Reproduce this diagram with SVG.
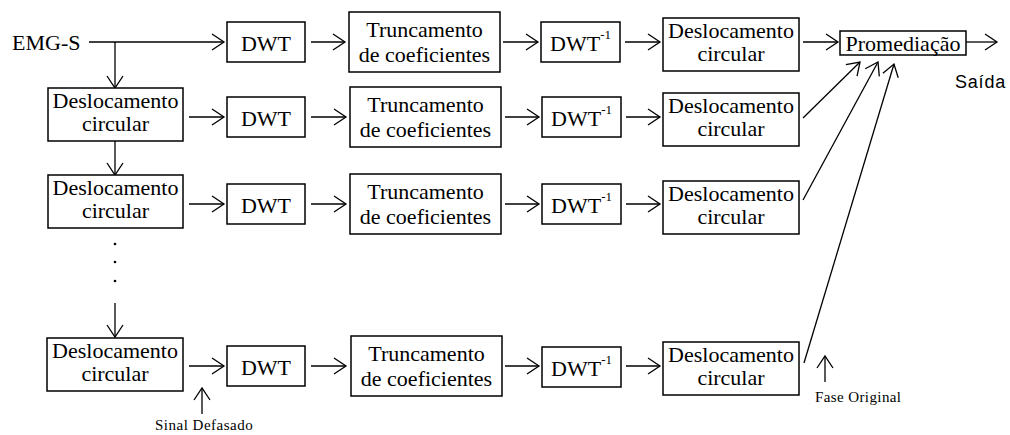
<svg xmlns="http://www.w3.org/2000/svg" width="1010" height="435" viewBox="0 0 1010 435" font-family="'Liberation Serif', 'Times New Roman', 'DejaVu Serif', serif">
<style>
  text { font-family: 'Liberation Serif', 'Times New Roman', 'DejaVu Serif', serif; fill: #000; }
  .box { fill: #fff; stroke: #000; stroke-width: 1.5; }
  .t { font-size: 22px; }
  .m { text-anchor: middle; }
  .sm { font-size: 15px; }
  text.sans { font-family: 'Liberation Sans', Arial, sans-serif; font-size: 18px; letter-spacing: 0.8px; }
  .c { fill: none; stroke: #000; stroke-width: 1.3; marker-end: url(#arr); }
</style>
<defs>
  <marker id="arr" markerUnits="userSpaceOnUse" markerWidth="20" markerHeight="20" refX="13" refY="9" orient="auto">
    <path d="M1,1 L13,9 L1,17" fill="none" stroke="#000" stroke-width="1.3"/>
  </marker>
</defs>
<rect width="1010" height="435" fill="#fff"/>

<g id="connectors">
  <line class="c" x1="89" y1="42" x2="224" y2="42"/>
  <line class="c" x1="311" y1="42" x2="345" y2="42"/>
  <line class="c" x1="503" y1="42" x2="538" y2="42"/>
  <line class="c" x1="625" y1="42" x2="660" y2="42"/>
  <line class="c" x1="803" y1="42" x2="838" y2="42"/>
  <line class="c" x1="966" y1="42" x2="997" y2="42"/>
  <line class="c" x1="115" y1="42" x2="115" y2="88"/>
  <line class="c" x1="115" y1="141" x2="115" y2="175"/>
  <line class="c" x1="115" y1="303" x2="115" y2="337"/>
  <line class="c" x1="189" y1="117" x2="224" y2="117"/>
  <line class="c" x1="311" y1="117" x2="346" y2="117"/>
  <line class="c" x1="505" y1="117" x2="539" y2="117"/>
  <line class="c" x1="626" y1="117" x2="660" y2="117"/>
  <line class="c" x1="189" y1="204" x2="224" y2="204"/>
  <line class="c" x1="311" y1="204" x2="346" y2="204"/>
  <line class="c" x1="505" y1="204" x2="539" y2="204"/>
  <line class="c" x1="626" y1="204" x2="660" y2="204"/>
  <line class="c" x1="189" y1="366" x2="224" y2="366"/>
  <line class="c" x1="311" y1="366" x2="346" y2="366"/>
  <line class="c" x1="505" y1="366" x2="539" y2="366"/>
  <line class="c" x1="626" y1="366" x2="660" y2="366"/>
  <line class="c" x1="803" y1="118" x2="860" y2="62"/>
  <line class="c" x1="803" y1="200" x2="878" y2="62"/>
  <line class="c" x1="804" y1="363" x2="894" y2="64"/>
  <line class="c" x1="202" y1="414" x2="202" y2="388"/>
  <line class="c" x1="825" y1="382" x2="825" y2="356"/>
  <circle cx="115" cy="244" r="1.3" fill="#000"/>
  <circle cx="115" cy="262" r="1.3" fill="#000"/>
  <circle cx="115" cy="281" r="1.3" fill="#000"/>
</g>

<g id="input"><text class="t" x="12" y="50">EMG-S</text></g>

<g id="dwt1"><rect class="box" x="227" y="22" width="78" height="40"/><text class="t m" x="266" y="51">DWT</text></g>
<g id="trunc1"><rect class="box" x="349" y="12" width="151" height="60"/><text class="t m" x="424.5" y="37">Truncamento</text><text class="t m" x="424.5" y="62">de coeficientes</text></g>
<g id="idwt1"><rect class="box" x="541" y="22" width="79" height="40"/><text class="t m" x="580.5" y="51">DWT<tspan font-size="13" dy="-12">-1</tspan></text></g>
<g id="desr1"><rect class="box" x="663" y="18" width="136" height="53"/><text class="t m" x="731" y="38">Deslocamento</text><text class="t m" x="731" y="61">circular</text></g>

<g id="desl2"><rect class="box" x="48" y="88" width="135" height="53"/><text class="t m" x="115.5" y="108">Deslocamento</text><text class="t m" x="115.5" y="131">circular</text></g>
<g id="dwt2"><rect class="box" x="227" y="97" width="78" height="40"/><text class="t m" x="266" y="126">DWT</text></g>
<g id="trunc2"><rect class="box" x="350" y="87" width="151" height="60"/><text class="t m" x="425.5" y="112">Truncamento</text><text class="t m" x="425.5" y="137">de coeficientes</text></g>
<g id="idwt2"><rect class="box" x="542" y="97" width="79" height="40"/><text class="t m" x="581.5" y="126">DWT<tspan font-size="13" dy="-12">-1</tspan></text></g>
<g id="desr2"><rect class="box" x="663" y="93" width="136" height="53"/><text class="t m" x="731" y="113">Deslocamento</text><text class="t m" x="731" y="136">circular</text></g>

<g id="desl3"><rect class="box" x="48" y="175" width="135" height="53"/><text class="t m" x="115.5" y="195">Deslocamento</text><text class="t m" x="115.5" y="218">circular</text></g>
<g id="dwt3"><rect class="box" x="227" y="184" width="78" height="40"/><text class="t m" x="266" y="213">DWT</text></g>
<g id="trunc3"><rect class="box" x="350" y="174" width="151" height="60"/><text class="t m" x="425.5" y="199">Truncamento</text><text class="t m" x="425.5" y="224">de coeficientes</text></g>
<g id="idwt3"><rect class="box" x="542" y="184" width="79" height="40"/><text class="t m" x="581.5" y="213">DWT<tspan font-size="13" dy="-12">-1</tspan></text></g>
<g id="desr3"><rect class="box" x="663" y="181" width="136" height="53"/><text class="t m" x="731" y="201">Deslocamento</text><text class="t m" x="731" y="224">circular</text></g>

<g id="desl4"><rect class="box" x="47" y="338" width="136" height="53"/><text class="t m" x="115" y="358">Deslocamento</text><text class="t m" x="115" y="381">circular</text></g>
<g id="dwt4"><rect class="box" x="227" y="346" width="78" height="40"/><text class="t m" x="266" y="375">DWT</text></g>
<g id="trunc4"><rect class="box" x="351" y="336" width="151" height="60"/><text class="t m" x="426.5" y="361">Truncamento</text><text class="t m" x="426.5" y="386">de coeficientes</text></g>
<g id="idwt4"><rect class="box" x="542" y="347" width="79" height="40"/><text class="t m" x="581.5" y="376">DWT<tspan font-size="13" dy="-12">-1</tspan></text></g>
<g id="desr4"><rect class="box" x="663" y="342" width="136" height="53"/><text class="t m" x="731" y="362">Deslocamento</text><text class="t m" x="731" y="385">circular</text></g>

<g id="prom"><rect class="box" x="840" y="31" width="126" height="24"/><text class="t m" x="903" y="51">Promediação</text></g>
<g id="saida"><text class="sans" x="955" y="88">Saída</text></g>
<g id="sinal"><text class="sm" x="155" y="430" letter-spacing="0.5">Sinal Defasado</text></g>
<g id="fase"><text class="sm" x="815" y="402" letter-spacing="0.4">Fase Original</text></g>
</svg>
